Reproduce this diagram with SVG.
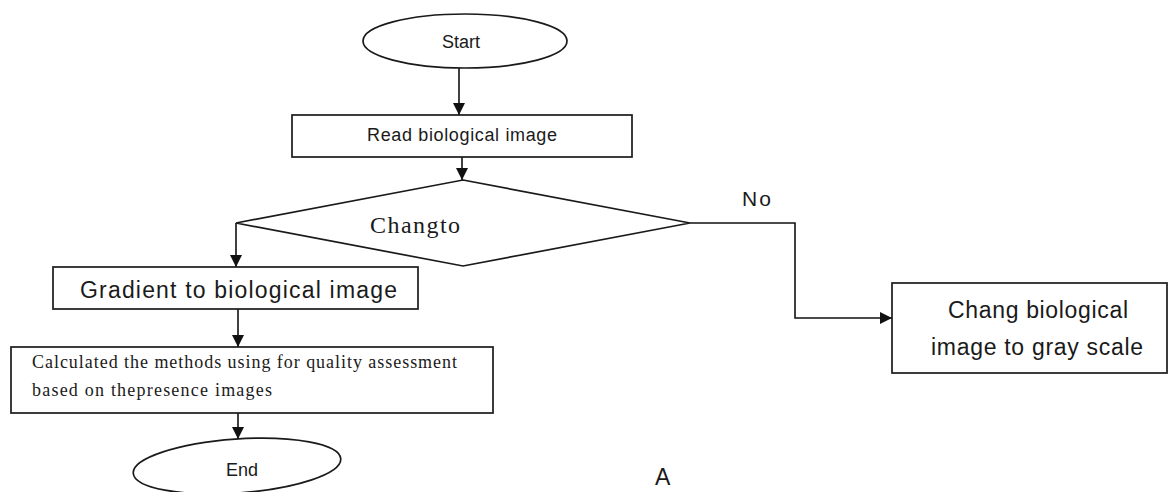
<svg xmlns="http://www.w3.org/2000/svg" width="1168" height="492" viewBox="0 0 1168 492">
  <style>
    .shape { fill: #ffffff; stroke: #1a1a1a; stroke-width: 1.7; }
    .conn { fill: none; stroke: #111111; stroke-width: 1.6; }
    .sans { font-family: "Liberation Sans", Arial, sans-serif; fill: #1a1a1a; }
    .serif { font-family: "Liberation Serif", "Times New Roman", serif; fill: #1a1a1a; }
  </style>
  <defs>
    <marker id="arrow" markerUnits="userSpaceOnUse" markerWidth="12" markerHeight="12" viewBox="0 0 12 12" refX="12" refY="6" orient="auto">
      <path d="M0,0 L12,6 L0,12 z" fill="#111111"/>
    </marker>
  </defs>
  <rect width="1168" height="492" fill="#ffffff"/>

  <g id="connectors">
    <line class="conn" x1="459" y1="68" x2="459" y2="115" marker-end="url(#arrow)"/>
    <line class="conn" x1="462" y1="157" x2="462" y2="180" marker-end="url(#arrow)"/>
    <polyline class="conn" points="236,223 236,267" marker-end="url(#arrow)"/>
    <line class="conn" x1="238" y1="309" x2="238" y2="347" marker-end="url(#arrow)"/>
    <line class="conn" x1="238" y1="413" x2="238" y2="439" marker-end="url(#arrow)"/>
    <polyline class="conn" points="690,223 795,223 795,318 892,318" marker-end="url(#arrow)"/>
    <text class="sans" x="742" y="206" font-size="21" textLength="29">No</text>
  </g>

  <g id="start">
    <ellipse class="shape" cx="465" cy="41" rx="102" ry="27"/>
    <text class="sans" x="461" y="48" font-size="18" text-anchor="middle">Start</text>
  </g>

  <g id="read">
    <rect class="shape" x="292" y="115" width="340" height="42"/>
    <text class="sans" x="462" y="141" font-size="18" text-anchor="middle" textLength="190">Read biological image</text>
  </g>

  <g id="decision">
    <polygon class="shape" points="463,180 690,223 463,266 236,223"/>
    <text class="serif" x="370" y="233" font-size="24" textLength="90">Changto</text>
  </g>

  <g id="gradient">
    <rect class="shape" x="53" y="267" width="365" height="42"/>
    <text class="sans" x="80" y="298" font-size="23" textLength="317">Gradient to biological image</text>
  </g>

  <g id="calculated">
    <rect class="shape" x="11" y="347" width="482" height="66"/>
    <text class="serif" x="32" y="368" font-size="18" textLength="425">Calculated the methods using for quality assessment</text>
    <text class="serif" x="32" y="396" font-size="18" textLength="240">based on thepresence images</text>
  </g>

  <g id="end">
    <ellipse class="shape" cx="237" cy="466" rx="104" ry="27" transform="rotate(-4 237 466)"/>
    <text class="sans" x="242" y="476" font-size="18" text-anchor="middle">End</text>
  </g>

  <g id="grayscale">
    <rect class="shape" x="892" y="283" width="275" height="90"/>
    <text class="sans" x="1038" y="318" font-size="23" text-anchor="middle" textLength="180">Chang biological</text>
    <text class="sans" x="1037" y="355" font-size="23" text-anchor="middle" textLength="212">image to gray scale</text>
  </g>

  <text id="label-a" class="sans" x="655" y="485" font-size="23" textLength="17">A</text>
</svg>
